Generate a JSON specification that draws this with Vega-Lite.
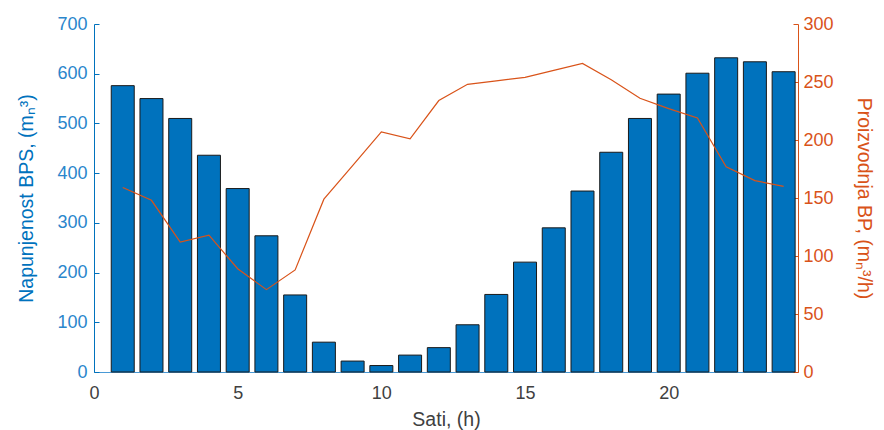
{
  "$schema": "https://vega.github.io/schema/vega-lite/v6.json",
  "autosize": "none",
  "width": 704,
  "height": 348,
  "padding": {"left": 94, "top": 24, "right": 86, "bottom": 58},
  "background": "white",
  "config": {
    "view": {"stroke": null},
    "font": "Liberation Sans",
    "axis": {"grid": false, "labelFont": "Liberation Sans", "titleFont": "Liberation Sans", "labelFontSize": 18, "titleFontSize": 19.5, "titleFontWeight": "normal"}
  },
  "data": {
    "values": [
      {"hour": 1, "fill": 576, "prod": 159},
      {"hour": 2, "fill": 550, "prod": 148},
      {"hour": 3, "fill": 510, "prod": 112},
      {"hour": 4, "fill": 436, "prod": 118},
      {"hour": 5, "fill": 369, "prod": 89},
      {"hour": 6, "fill": 274, "prod": 71},
      {"hour": 7, "fill": 155, "prod": 88},
      {"hour": 8, "fill": 60, "prod": 149},
      {"hour": 9, "fill": 22, "prod": 178},
      {"hour": 10, "fill": 13, "prod": 207},
      {"hour": 11, "fill": 34, "prod": 201},
      {"hour": 12, "fill": 49, "prod": 234},
      {"hour": 13, "fill": 95, "prod": 248},
      {"hour": 14, "fill": 156, "prod": 251},
      {"hour": 15, "fill": 221, "prod": 254},
      {"hour": 16, "fill": 290, "prod": 260},
      {"hour": 17, "fill": 364, "prod": 266},
      {"hour": 18, "fill": 442, "prod": 252},
      {"hour": 19, "fill": 510, "prod": 236},
      {"hour": 20, "fill": 559, "prod": 227},
      {"hour": 21, "fill": 601, "prod": 219},
      {"hour": 22, "fill": 632, "prod": 177},
      {"hour": 23, "fill": 624, "prod": 165},
      {"hour": 24, "fill": 604, "prod": 160}
    ]
  },
  "layer": [
    {
      "mark": {"type": "bar", "width": 23, "color": "#0072BD", "stroke": "#1a1a1a", "strokeWidth": 1},
      "encoding": {
        "x": {
          "field": "hour", "type": "quantitative",
          "scale": {"domain": [0, 24.5], "nice": false, "zero": false, "padding": 0},
          "axis": {"values": [0, 5, 10, 15, 20], "title": "Sati, (h)", "labelColor": "#404040", "titleColor": "#404040", "domainColor": "#4a9ad6", "tickColor": "#404040", "tickSize": -5, "labelPadding": 17, "titlePadding": 8, "labelFlush": false}
        },
        "y": {
          "field": "fill", "type": "quantitative",
          "scale": {"domain": [0, 700], "nice": false},
          "axis": {"orient": "left", "values": [0, 100, 200, 300, 400, 500, 600, 700], "title": "Napunjenost BPS, (mₙ³)", "labelColor": "#2a86cc", "titleColor": "#0072BD", "domainColor": "#0072BD", "tickColor": "#0072BD", "tickSize": -5, "labelPadding": 12, "titlePadding": 20}
        }
      }
    },
    {
      "mark": {"type": "line", "color": "#D95319", "strokeWidth": 1.2},
      "encoding": {
        "x": {"field": "hour", "type": "quantitative"},
        "y": {
          "field": "prod", "type": "quantitative",
          "scale": {"domain": [0, 300], "nice": false},
          "axis": {"orient": "right", "values": [0, 50, 100, 150, 200, 250, 300], "title": "Proizvodnja BP, (mₙ³/h)", "labelColor": "#D95319", "titleColor": "#D95319", "domainColor": "#D95319", "tickColor": "#D95319", "tickSize": -5, "labelPadding": 10, "titlePadding": 20}
        }
      }
    }
  ],
  "resolve": {"scale": {"y": "independent"}}
}
